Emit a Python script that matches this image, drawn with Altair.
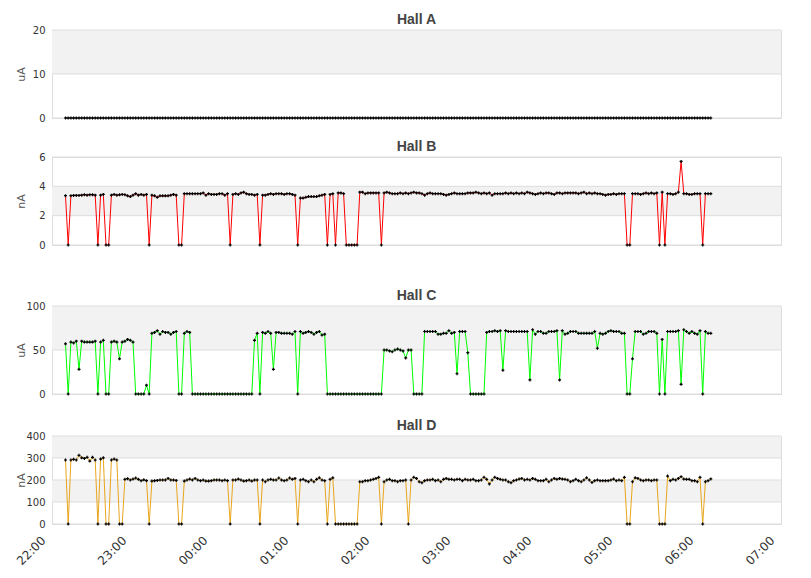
import altair as alt
import pandas as pd

# ---- data (sampled every 2 minutes from 22:10) ----
N_POINTS = 240
START = "2024-01-01 22:10"
STEP = "2min"

hall_a = [
    0, 0, 0, 0, 0, 0, 0, 0, 0, 0, 0, 0, 0, 0, 0, 0, 0, 0, 0, 0, 0, 0, 0, 0, 0, 0, 0, 0, 0, 0,
    0, 0, 0, 0, 0, 0, 0, 0, 0, 0, 0, 0, 0, 0, 0, 0, 0, 0, 0, 0, 0, 0, 0, 0, 0, 0, 0, 0, 0, 0,
    0, 0, 0, 0, 0, 0, 0, 0, 0, 0, 0, 0, 0, 0, 0, 0, 0, 0, 0, 0, 0, 0, 0, 0, 0, 0, 0, 0, 0, 0,
    0, 0, 0, 0, 0, 0, 0, 0, 0, 0, 0, 0, 0, 0, 0, 0, 0, 0, 0, 0, 0, 0, 0, 0, 0, 0, 0, 0, 0, 0,
    0, 0, 0, 0, 0, 0, 0, 0, 0, 0, 0, 0, 0, 0, 0, 0, 0, 0, 0, 0, 0, 0, 0, 0, 0, 0, 0, 0, 0, 0,
    0, 0, 0, 0, 0, 0, 0, 0, 0, 0, 0, 0, 0, 0, 0, 0, 0, 0, 0, 0, 0, 0, 0, 0, 0, 0, 0, 0, 0, 0,
    0, 0, 0, 0, 0, 0, 0, 0, 0, 0, 0, 0, 0, 0, 0, 0, 0, 0, 0, 0, 0, 0, 0, 0, 0, 0, 0, 0, 0, 0,
    0, 0, 0, 0, 0, 0, 0, 0, 0, 0, 0, 0, 0, 0, 0, 0, 0, 0, 0, 0, 0, 0, 0, 0, 0, 0, 0, 0, 0, 0,
]

hall_b = [
    3.36, 0, 3.36, 3.38, 3.38, 3.38, 3.40, 3.43, 3.40, 3.43,
    3.43, 3.40, 0, 3.40, 3.45, 0, 0, 3.40, 3.45, 3.40,
    3.42, 3.45, 3.43, 3.35, 3.30, 3.40, 3.50, 3.40, 3.45, 3.40,
    3.45, 0, 3.40, 3.35, 3.25, 3.35, 3.35, 3.35, 3.35, 3.40,
    3.45, 3.40, 0, 0, 3.50, 3.50, 3.50, 3.50, 3.50, 3.50,
    3.50, 3.55, 3.40, 3.50, 3.45, 3.45, 3.45, 3.50, 3.50, 3.40,
    3.50, 0, 3.45, 3.50, 3.45, 3.55, 3.60, 3.50, 3.45, 3.45,
    3.40, 3.45, 0, 3.40, 3.40, 3.45, 3.50, 3.45, 3.50, 3.50,
    3.50, 3.45, 3.50, 3.50, 3.45, 3.40, 0, 3.20, 3.20, 3.25,
    3.30, 3.30, 3.30, 3.30, 3.35, 3.40, 3.45, 0, 3.45, 3.50,
    0, 3.55, 3.55, 3.50, 0, 0, 0, 0, 0, 3.60,
    3.60, 3.50, 3.55, 3.55, 3.55, 3.55, 3.55, 0, 3.55, 3.60,
    3.55, 3.50, 3.50, 3.50, 3.55, 3.50, 3.55, 3.50, 3.55, 3.60,
    3.55, 3.55, 3.50, 3.40, 3.50, 3.55, 3.50, 3.50, 3.50, 3.50,
    3.45, 3.40, 3.45, 3.50, 3.55, 3.50, 3.50, 3.50, 3.50, 3.55,
    3.55, 3.55, 3.60, 3.55, 3.50, 3.55, 3.50, 3.55, 3.40, 3.50,
    3.50, 3.50, 3.50, 3.55, 3.50, 3.55, 3.50, 3.55, 3.50, 3.55,
    3.50, 3.60, 3.55, 3.50, 3.45, 3.50, 3.55, 3.50, 3.55, 3.55,
    3.50, 3.45, 3.55, 3.55, 3.50, 3.55, 3.55, 3.55, 3.55, 3.55,
    3.50, 3.55, 3.60, 3.50, 3.55, 3.50, 3.55, 3.50, 3.50, 3.45,
    3.40, 3.45, 3.45, 3.50, 3.45, 3.50, 3.50, 3.50, 0, 0,
    3.50, 3.50, 3.50, 3.45, 3.50, 3.55, 3.50, 3.55, 3.50, 3.55,
    0, 3.60, 0, 3.50, 3.50, 3.45, 3.50, 3.60, 5.70, 3.50,
    3.50, 3.45, 3.45, 3.50, 3.50, 3.50, 0, 3.50, 3.50, 3.50,
]

hall_c = [
    57, 0, 59, 58, 60, 28, 60, 59, 59, 59,
    59, 60, 0, 59, 61, 0, 0, 59, 60, 59,
    40, 59, 60, 62, 61, 59, 0, 0, 0, 0,
    10, 0, 69, 70, 72, 68, 71, 70, 70, 68,
    70, 71, 0, 0, 69, 71, 70, 0, 0, 0,
    0, 0, 0, 0, 0, 0, 0, 0, 0, 0,
    0, 0, 0, 0, 0, 0, 0, 0, 0, 0,
    61, 69, 0, 70, 69, 71, 69, 28, 70, 70,
    69, 69, 69, 69, 68, 71, 0, 71, 69, 70,
    71, 70, 68, 70, 71, 67, 68, 0, 0, 0,
    0, 0, 0, 0, 0, 0, 0, 0, 0, 0,
    0, 0, 0, 0, 0, 0, 0, 0, 50, 50,
    49, 48, 50, 51, 50, 49, 41, 50, 50, 0,
    0, 0, 0, 71, 71, 71, 71, 71, 68, 68,
    69, 69, 72, 69, 70, 23, 71, 71, 71, 47,
    0, 0, 0, 0, 0, 0, 70, 71, 71, 72,
    71, 72, 27, 72, 71, 71, 71, 71, 71, 71,
    71, 71, 16, 73, 68, 71, 71, 69, 69, 71,
    71, 71, 72, 16, 72, 68, 69, 71, 71, 71,
    69, 69, 69, 69, 69, 69, 71, 52, 69, 68,
    69, 71, 72, 71, 71, 71, 69, 69, 0, 0,
    40, 71, 71, 71, 68, 69, 71, 71, 71, 69,
    0, 62, 0, 71, 71, 71, 71, 72, 11, 73,
    71, 69, 71, 69, 68, 72, 0, 71, 69, 69,
]

hall_d = [
    291, 0, 291, 294, 291, 312, 301, 298, 303, 286,
    303, 291, 0, 295, 301, 0, 0, 291, 295, 291,
    0, 0, 203, 206, 200, 204, 209, 203, 197, 201,
    197, 0, 195, 197, 198, 200, 200, 200, 207, 200,
    200, 198, 0, 0, 195, 200, 204, 200, 207, 200,
    197, 200, 195, 195, 197, 200, 200, 200, 197, 200,
    197, 0, 200, 200, 204, 200, 195, 197, 200, 195,
    200, 200, 0, 200, 192, 200, 203, 200, 200, 209,
    200, 197, 200, 209, 203, 207, 0, 200, 203, 197,
    192, 200, 192, 203, 210, 200, 197, 0, 203, 210,
    0, 0, 0, 0, 0, 0, 0, 0, 0, 192,
    192, 197, 197, 200, 203, 207, 212, 0, 192, 200,
    203, 197, 197, 192, 197, 197, 200, 0, 200, 212,
    207, 192, 188, 197, 200, 200, 203, 197, 200, 192,
    203, 207, 203, 203, 200, 203, 203, 197, 203, 200,
    200, 203, 197, 197, 200, 212, 203, 182, 200, 212,
    207, 203, 200, 200, 192, 188, 197, 200, 204, 207,
    200, 203, 200, 207, 203, 197, 197, 197, 203, 192,
    200, 207, 203, 207, 204, 203, 200, 192, 197, 203,
    197, 192, 200, 210, 200, 189, 197, 200, 197, 197,
    197, 197, 200, 204, 197, 200, 197, 212, 0, 0,
    192, 210, 207, 200, 197, 200, 200, 197, 200, 200,
    0, 0, 0, 218, 197, 203, 200, 207, 215, 204,
    203, 203, 197, 197, 192, 212, 0, 192, 197, 205,
]

panel_names = ["Hall A", "Hall B", "Hall C", "Hall D"]
panel_units = ["uA", "nA", "uA", "nA"]
panel_colors = ["#000000", "#ff0000", "#00ff00", "#e8a51c"]
panel_ticks = [[0, 10, 20], [0, 2, 4, 6], [0, 50, 100], [0, 100, 200, 300, 400]]
panel_bands = [[(10, 20)], [(2, 4)], [(50, 100)], [(100, 200), (300, 400)]]

hour_labels = [(1, 22), (1, 23), (2, 0), (2, 1), (2, 2), (2, 3), (2, 4), (2, 5), (2, 6), (2, 7)]

TIMES = pd.date_range(START, periods=N_POINTS, freq=STEP).strftime("%Y-%m-%dT%H:%M:%S").tolist()

W = 729
H = 88
LABEL_FONT = "DejaVu Sans"

x_domain = [alt.DateTime(year=2024, month=1, date=1, hours=22),
            alt.DateTime(year=2024, month=1, date=2, hours=7)]
hour_values = [alt.DateTime(year=2024, month=1, date=d, hours=h) for d, h in hour_labels]


def panel(name, unit, vals, color, ticks, bands, show_x):
    df = pd.DataFrame({"time": TIMES, "value": vals})
    yscale = alt.Scale(domain=[ticks[0], ticks[-1]], nice=False, zero=True)
    yaxis = alt.Axis(values=ticks, title=unit, grid=False, ticks=False,
                     domainColor="#dddddd", labelFont=LABEL_FONT, labelFontSize=10,
                     labelColor="#333333", labelPadding=7,
                     titleFont=LABEL_FONT, titleFontSize=11, titleFontWeight="normal",
                     titleColor="#555555", titleX=-26)
    if show_x:
        xaxis = alt.Axis(values=hour_values, format="%H:%M", labelAngle=-45,
                         labelAlign="right", labelBaseline="middle", labelOffset=-9,
                         grid=False, ticks=False, domainColor="#dddddd",
                         labelFont=LABEL_FONT, labelFontSize=12, labelColor="#333333",
                         labelPadding=14, labelOverlap=False)
    else:
        xaxis = None
    xenc = alt.X("time:T", scale=alt.Scale(domain=x_domain), axis=xaxis, title=None)

    band_df = pd.DataFrame({"lo": [b[0] for b in bands], "hi": [b[1] for b in bands]})
    band_layer = alt.Chart(band_df).mark_rect(color="#f2f2f2").encode(
        x=alt.value(0), x2=alt.value(W),
        y=alt.Y("lo:Q", scale=yscale, axis=yaxis), y2="hi:Q")
    grid_layer = alt.Chart(pd.DataFrame({"t": ticks})).mark_rule(
        color="#dddddd", strokeWidth=1).encode(
        y=alt.Y("t:Q", scale=yscale, axis=yaxis))
    line_layer = alt.Chart(df).mark_line(color=color, strokeWidth=1).encode(
        x=xenc, y=alt.Y("value:Q", scale=yscale, axis=yaxis))
    pt_layer = alt.Chart(df).mark_point(shape="cross", filled=True, color="#000000",
                                        size=9, opacity=1).encode(
        x=xenc, y=alt.Y("value:Q", scale=yscale, axis=yaxis))
    return alt.layer(band_layer, grid_layer, line_layer, pt_layer).properties(
        width=W, height=H,
        title=alt.TitleParams(name, font="Liberation Sans", fontSize=14,
                              fontWeight="bold", color="#444444", offset=-2))


series = [hall_a, hall_b, hall_c, hall_d]
panels = [panel(panel_names[i], panel_units[i], series[i], panel_colors[i],
                panel_ticks[i], panel_bands[i], i == 3) for i in range(4)]

chart = alt.vconcat(
    alt.vconcat(panels[0], panels[1], spacing=15),
    alt.vconcat(panels[2], panels[3], spacing=18),
    spacing=37,
).properties(
    padding={"left": 5, "top": 4, "right": 10, "bottom": 0}
).configure_view(stroke="#dddddd", strokeWidth=1)

chart.save("out.html", embed_options={"renderer": "svg", "actions": False})
